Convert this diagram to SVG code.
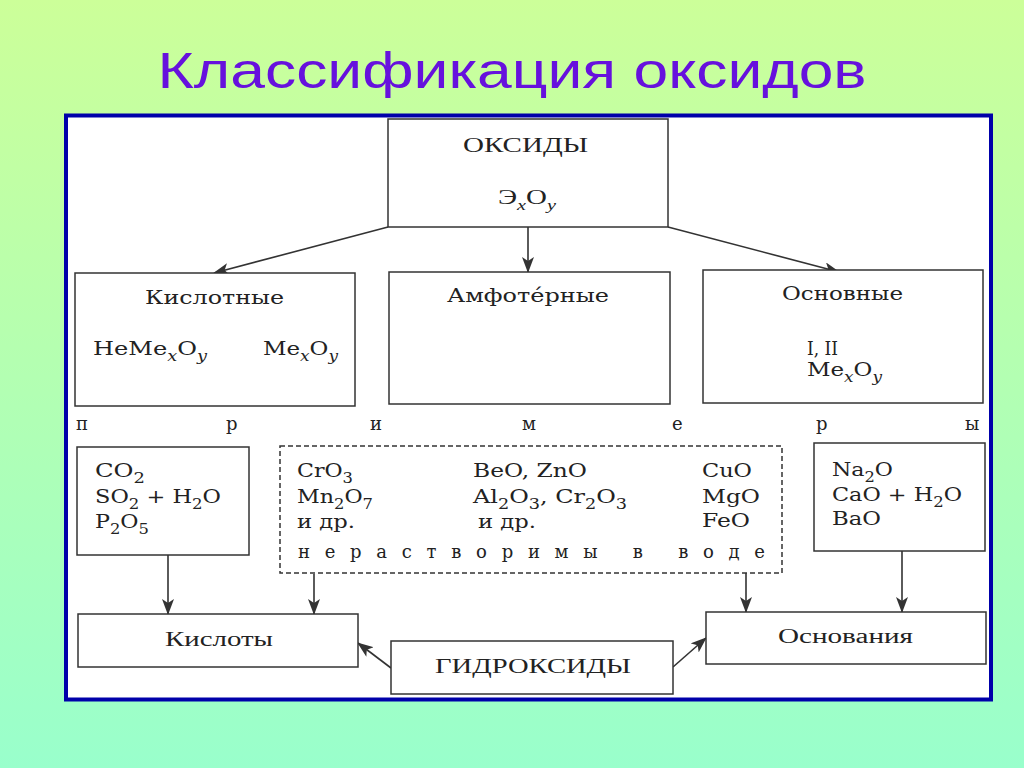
<svg xmlns="http://www.w3.org/2000/svg" width="1024" height="768" viewBox="0 0 1024 768">
<defs>
<linearGradient id="bg" x1="0" y1="0" x2="0" y2="1">
<stop offset="0" stop-color="#ccff99"/>
<stop offset="1" stop-color="#99ffcc"/>
</linearGradient>
<marker id="ah" markerUnits="userSpaceOnUse" markerWidth="16" markerHeight="12" refX="15" refY="6" orient="auto">
<path d="M0,0 L16,6 L0,12 L4,6 z" fill="#333"/>
</marker>
<style>
.box{fill:#fff;stroke:#333;stroke-width:1.5}
.dash{fill:#fff;stroke:#333;stroke-width:1.5;stroke-dasharray:5,3}
.t{font-family:"DejaVu Serif","Liberation Serif",serif;font-size:18px;fill:#222}
.f{font-family:"DejaVu Serif","Liberation Serif",serif;font-size:19px;fill:#222}
.h{font-family:"Liberation Serif","DejaVu Serif",serif;font-size:20px;fill:#222}
.sub{font-size:14px}
.i{font-style:italic}
.con{stroke:#333;stroke-width:1.6;fill:none;marker-end:url(#ah)}
</style>
</defs>
<rect x="0" y="0" width="1024" height="768" fill="url(#bg)"/>
<text x="512" y="88" text-anchor="middle" font-family="Liberation Sans, Arial, sans-serif" font-size="50" fill="#6611dd" textLength="709" lengthAdjust="spacingAndGlyphs">Классификация оксидов</text>
<rect x="66" y="115.5" width="925" height="584" fill="#fff" stroke="#0000aa" stroke-width="4"/>

<g id="connectors">
<line class="con" x1="388" y1="227" x2="214" y2="273"/>
<line class="con" x1="528" y1="227" x2="528" y2="272"/>
<line class="con" x1="668" y1="227" x2="839" y2="272"/>
<line class="con" x1="168" y1="555" x2="168" y2="614"/>
<line class="con" x1="314" y1="574" x2="314" y2="614"/>
<line class="con" x1="746" y1="573" x2="746" y2="612"/>
<line class="con" x1="902" y1="551" x2="902" y2="612"/>
<line class="con" x1="391" y1="668" x2="358" y2="643"/>
<line class="con" x1="673" y1="667" x2="706" y2="638"/>
</g>

<g id="oxides">
<rect class="box" x="388" y="119" width="280" height="108"/>
<text class="h" x="463" y="152" textLength="125" lengthAdjust="spacingAndGlyphs">ОКСИДЫ</text>
<text class="h" x="498" y="204" font-size="21" textLength="58" lengthAdjust="spacingAndGlyphs">Э<tspan class="sub i" dy="6">x</tspan><tspan dy="-6">O</tspan><tspan class="sub i" dy="6">y</tspan></text>
</g>

<g id="acidic">
<rect class="box" x="75" y="273" width="280" height="133"/>
<text class="t" x="145" y="304" textLength="139" lengthAdjust="spacingAndGlyphs">Кислотные</text>
<text class="f" x="93" y="355" textLength="114" lengthAdjust="spacingAndGlyphs">HeMe<tspan class="sub i" dy="6">x</tspan><tspan dy="-6">O</tspan><tspan class="sub i" dy="6">y</tspan></text>
<text class="f" x="263" y="355" textLength="75" lengthAdjust="spacingAndGlyphs">Me<tspan class="sub i" dy="6">x</tspan><tspan dy="-6">O</tspan><tspan class="sub i" dy="6">y</tspan></text>
</g>

<g id="amphoteric">
<rect class="box" x="389" y="272" width="281" height="132"/>
<text class="t" x="447" y="302" textLength="162" lengthAdjust="spacingAndGlyphs">Амфоте́рные</text>
</g>

<g id="basic">
<rect class="box" x="703" y="270" width="280" height="133"/>
<text class="t" x="782" y="300" textLength="121" lengthAdjust="spacingAndGlyphs">Основные</text>
<text class="t" x="807" y="355" font-size="14" textLength="31" lengthAdjust="spacingAndGlyphs">I, II</text>
<text class="f" x="807" y="376" textLength="75" lengthAdjust="spacingAndGlyphs">Me<tspan class="sub i" dy="6">x</tspan><tspan dy="-6">O</tspan><tspan class="sub i" dy="6">y</tspan></text>
</g>

<g id="examples-label">
<text class="t" x="76" y="430">п</text>
<text class="t" x="226" y="430">р</text>
<text class="t" x="370" y="430">и</text>
<text class="t" x="522" y="430">м</text>
<text class="t" x="672" y="430">е</text>
<text class="t" x="816" y="430">р</text>
<text class="t" x="965" y="430">ы</text>
</g>

<g id="acidic-examples">
<rect class="box" x="77" y="447" width="172" height="108"/>
<text class="f" x="95" y="477" textLength="50" lengthAdjust="spacingAndGlyphs">CO<tspan class="sub" dy="6">2</tspan></text>
<text class="f" x="95" y="503" textLength="126" lengthAdjust="spacingAndGlyphs">SO<tspan class="sub" dy="6">2</tspan><tspan dy="-6"> + H</tspan><tspan class="sub" dy="6">2</tspan><tspan dy="-6">O</tspan></text>
<text class="f" x="95" y="528" textLength="54" lengthAdjust="spacingAndGlyphs">P<tspan class="sub" dy="6">2</tspan><tspan dy="-6">O</tspan><tspan class="sub" dy="6">5</tspan></text>
</g>

<g id="amphoteric-examples">
<rect class="dash" x="280" y="446" width="502" height="127"/>
<text class="f" x="297" y="477" textLength="56" lengthAdjust="spacingAndGlyphs">CrO<tspan class="sub" dy="6">3</tspan></text>
<text class="f" x="297" y="503" textLength="76" lengthAdjust="spacingAndGlyphs">Mn<tspan class="sub" dy="6">2</tspan><tspan dy="-6">O</tspan><tspan class="sub" dy="6">7</tspan></text>
<text class="f" x="297" y="528" textLength="58" lengthAdjust="spacingAndGlyphs">и др.</text>
<text class="f" x="473" y="477" textLength="114" lengthAdjust="spacingAndGlyphs">BeO, ZnO</text>
<text class="f" x="473" y="503" textLength="154" lengthAdjust="spacingAndGlyphs">Al<tspan class="sub" dy="6">2</tspan><tspan dy="-6">O</tspan><tspan class="sub" dy="6">3</tspan><tspan dy="-6">, Cr</tspan><tspan class="sub" dy="6">2</tspan><tspan dy="-6">O</tspan><tspan class="sub" dy="6">3</tspan></text>
<text class="f" x="478" y="528" textLength="58" lengthAdjust="spacingAndGlyphs">и др.</text>
<text class="f" x="702" y="477" textLength="50" lengthAdjust="spacingAndGlyphs">CuO</text>
<text class="f" x="702" y="503" textLength="58" lengthAdjust="spacingAndGlyphs">MgO</text>
<text class="f" x="702" y="527" textLength="48" lengthAdjust="spacingAndGlyphs">FeO</text>
<text class="t" x="298" y="558" xml:space="preserve" textLength="467" lengthAdjust="spacing">н е р а с т в о р и м ы   в   в о д е</text>
</g>

<g id="basic-examples">
<rect class="box" x="814" y="443" width="171" height="108"/>
<text class="f" x="832" y="476" textLength="61" lengthAdjust="spacingAndGlyphs">Na<tspan class="sub" dy="6">2</tspan><tspan dy="-6">O</tspan></text>
<text class="f" x="832" y="501" textLength="130" lengthAdjust="spacingAndGlyphs">CaO + H<tspan class="sub" dy="6">2</tspan><tspan dy="-6">O</tspan></text>
<text class="f" x="832" y="525" textLength="49" lengthAdjust="spacingAndGlyphs">BaO</text>
</g>

<g id="acids">
<rect class="box" x="78" y="614" width="280" height="53"/>
<text class="h" x="165" y="646" textLength="108" lengthAdjust="spacingAndGlyphs">Кислоты</text>
</g>

<g id="bases">
<rect class="box" x="706" y="612" width="280" height="52"/>
<text class="h" x="778" y="643" textLength="135" lengthAdjust="spacingAndGlyphs">Основания</text>
</g>

<g id="hydroxides">
<rect class="box" x="391" y="641" width="282" height="53"/>
<text class="h" x="435" y="673" textLength="196" lengthAdjust="spacingAndGlyphs">ГИДРОКСИДЫ</text>
</g>
</svg>
